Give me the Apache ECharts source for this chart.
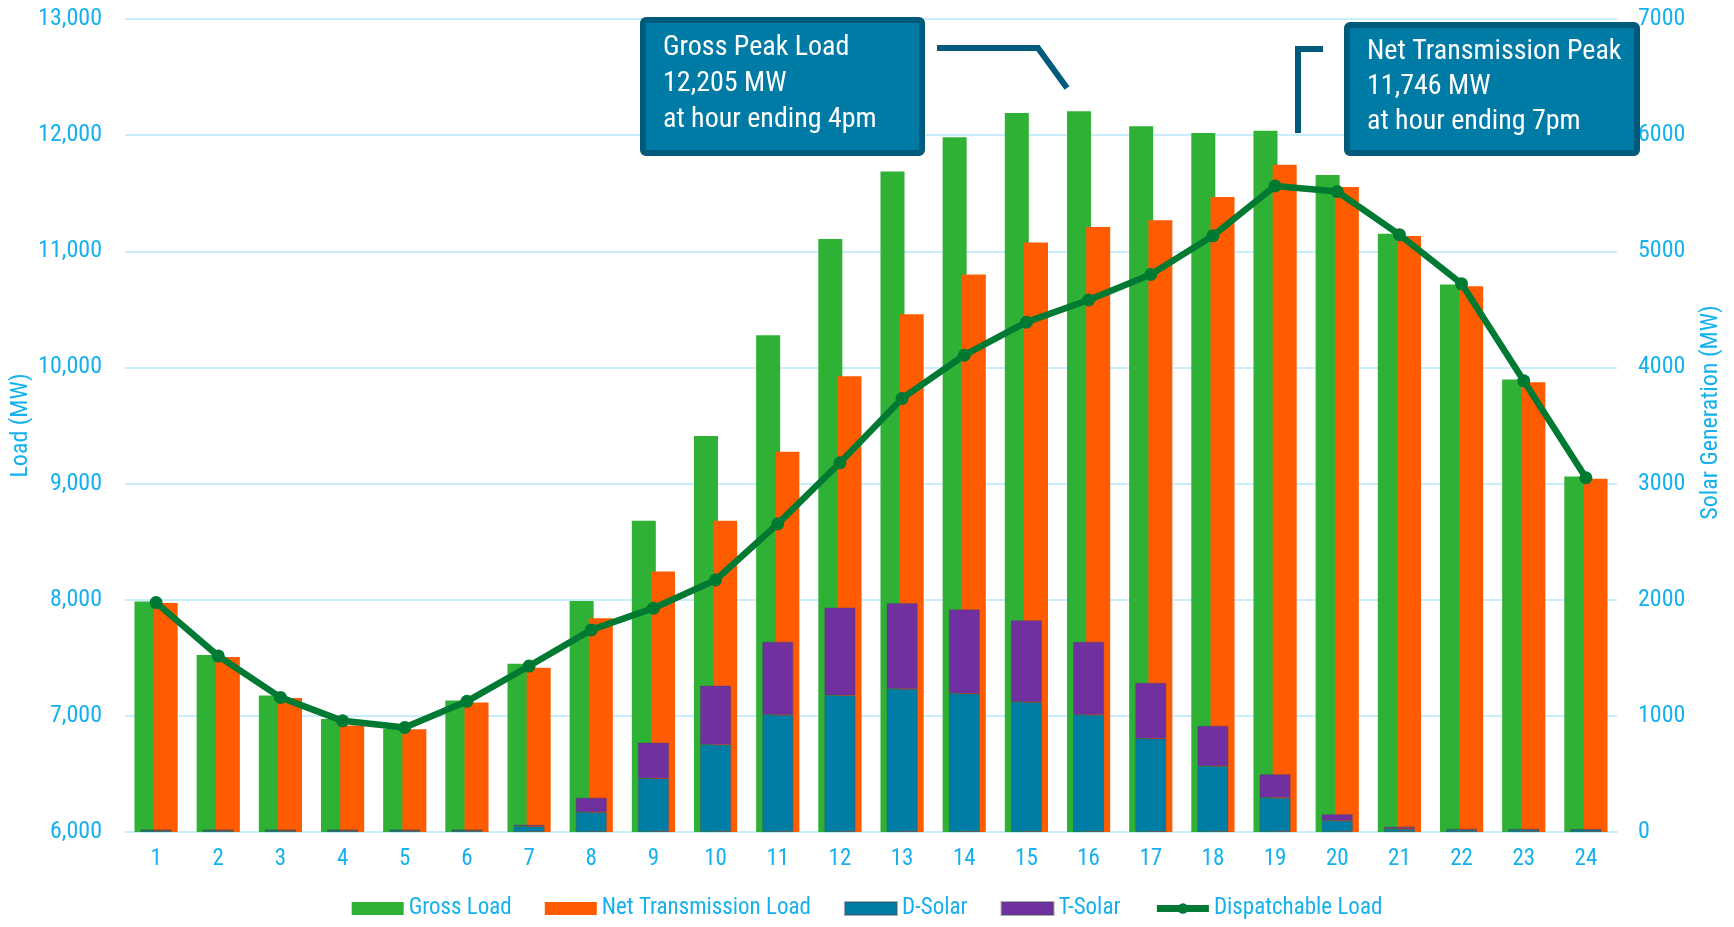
<!DOCTYPE html>
<html>
<head>
<meta charset="utf-8">
<title>Hourly Load and Solar Generation</title>
<script src="https://cdn.jsdelivr.net/npm/echarts@6/dist/echarts.min.js"></script>
<style>
  html, body { margin: 0; padding: 0; background: #ffffff; }
  #chart { width: 1734px; height: 927px; }
</style>
</head>
<body>
<div id="chart"></div>
<script>
// Hour-ending categories
const hours = ['1','2','3','4','5','6','7','8','9','10','11','12','13','14','15','16','17','18','19','20','21','22','23','24'];

// Load series (MW) on the left axis
const grossLoad = [7985, 7525, 7175, 6972, 6890, 7133, 7449, 7988, 8679, 9410, 10276, 11105,
                   11686, 11981, 12190, 12205, 12076, 12019, 12038, 11657, 11151, 10715, 9896, 9061];
const netTransmissionLoad = [7971, 7507, 7154, 6918, 6885, 7116, 7414, 7841, 8242, 8679, 9275, 9924,
                             10457, 10800, 11076, 11210, 11267, 11467, 11746, 11553, 11132, 10700, 9872, 9041];
const dispatchableLoad = [7975, 7516, 7159, 6957, 6900, 7125, 7429, 7740, 7927, 8170, 8653, 9179,
                          9733, 10105, 10390, 10581, 10800, 11133, 11562, 11514, 11143, 10720, 9885, 9050];

// Solar generation (MW) on the right axis, stacked
const dSolar = [17, 17, 17, 17, 17, 17, 48, 170, 460, 753, 1009, 1177,
                1232, 1191, 1119, 1009, 804, 568, 295, 97, 26, 22, 22, 22];
const tSolar = [0, 0, 0, 0, 0, 0, 14, 125, 310, 508, 629, 756,
                739, 725, 704, 629, 480, 347, 202, 56, 19, 3, 3, 0];

// Axis ranges
const loadAxis = { min: 6000, max: 13000, step: 1000 };
const solarAxis = { min: 0, max: 7000, step: 1000 };

const FONT = "'Roboto Condensed', 'Liberation Sans', sans-serif";
const LABEL_BLUE = '#14B1EE';
const GRID_BLUE = '#C8EEFB';
const BOX_FILL = '#007BA6';
const BOX_EDGE = '#005A7B';
const LINE_GREEN = '#007A33';

function fmtNum(v) { return v.toLocaleString('en-US'); }
function hourEnding(h) {
  const hr = h % 12 === 0 ? 12 : h % 12;
  return hr + (h < 12 || h === 24 ? 'am' : 'pm');
}
function peakOf(arr) {
  let idx = 0;
  arr.forEach((v, i) => { if (v > arr[idx]) idx = i; });
  return { value: arr[idx], hour: Number(hours[idx]) };
}

const grossPeak = peakOf(grossLoad);
const netPeak = peakOf(netTransmissionLoad);

const chart = echarts.init(document.getElementById('chart'), null, { renderer: 'canvas' });

const option = {
  backgroundColor: '#ffffff',
  animation: false,
  textStyle: { fontFamily: FONT },
  grid: { left: 125, right: 117, top: 19, bottom: 95, containLabel: false, outerBoundsMode: 'none' },
  legend: {
    bottom: 2,
    left: 'center',
    itemWidth: 52,
    itemHeight: 13,
    itemGap: 33,
    textStyle: { color: LABEL_BLUE, fontSize: 23, fontFamily: FONT },
    data: [
      { name: 'Gross Load', icon: 'rect' },
      { name: 'Net Transmission Load', icon: 'rect' },
      { name: 'D-Solar', icon: 'rect' },
      { name: 'T-Solar', icon: 'rect' },
      { name: 'Dispatchable Load', lineStyle: { width: 7, color: LINE_GREEN } }
    ]
  },
  xAxis: [
    {
      type: 'category',
      data: hours,
      axisLine: { lineStyle: { color: GRID_BLUE, width: 2 } },
      axisTick: { show: false },
      axisLabel: { color: LABEL_BLUE, fontSize: 23, margin: 16, fontFamily: FONT }
    },
    {
      type: 'category',
      data: hours,
      show: false
    }
  ],
  yAxis: [
    {
      type: 'value',
      min: loadAxis.min, max: loadAxis.max, interval: loadAxis.step,
      name: 'Load (MW)',
      nameLocation: 'middle',
      nameGap: 92,
      nameMoveOverlap: false,
      nameTextStyle: { color: LABEL_BLUE, fontSize: 24, fontFamily: FONT },
      axisLine: { show: false },
      axisTick: { show: false },
      axisLabel: { color: LABEL_BLUE, fontSize: 24, margin: 23, fontFamily: FONT,
                   formatter: v => fmtNum(v) },
      splitLine: { lineStyle: { color: GRID_BLUE, width: 2 } }
    },
    {
      type: 'value',
      min: solarAxis.min, max: solarAxis.max, interval: solarAxis.step,
      position: 'right',
      name: 'Solar Generation (MW)',
      nameLocation: 'middle',
      nameGap: 82,
      nameTextStyle: { color: LABEL_BLUE, fontSize: 24, fontFamily: FONT, padding: [0, 0, 0, 26] },
      axisLine: { show: false },
      axisTick: { show: false },
      axisLabel: { color: LABEL_BLUE, fontSize: 24, margin: 21, fontFamily: FONT,
                   formatter: v => String(v) },
      splitLine: { show: false }
    }
  ],
  series: [
    {
      name: 'Gross Load',
      type: 'bar',
      xAxisIndex: 0, yAxisIndex: 0,
      data: grossLoad,
      barWidth: 24,
      barGap: '-20%',
      itemStyle: { color: '#2FB136' },
      z: 2
    },
    {
      name: 'Net Transmission Load',
      type: 'bar',
      xAxisIndex: 0, yAxisIndex: 0,
      data: netTransmissionLoad,
      barWidth: 24,
      barGap: '-20%',
      itemStyle: { color: '#FF5B00' },
      z: 2
    },
    {
      name: 'D-Solar',
      type: 'bar',
      xAxisIndex: 1, yAxisIndex: 1,
      stack: 'solar',
      data: dSolar,
      barWidth: 31,
      itemStyle: { color: '#007DA4', borderColor: 'rgba(70,70,90,0.45)', borderWidth: 0.8 },
      z: 3
    },
    {
      name: 'T-Solar',
      type: 'bar',
      xAxisIndex: 1, yAxisIndex: 1,
      stack: 'solar',
      data: tSolar,
      barWidth: 31,
      itemStyle: { color: '#7030A0', borderColor: 'rgba(70,70,90,0.45)', borderWidth: 0.8 },
      z: 3
    },
    {
      name: 'Dispatchable Load',
      type: 'line',
      xAxisIndex: 0, yAxisIndex: 0,
      data: dispatchableLoad,
      symbol: 'circle',
      symbolSize: 13,
      lineStyle: { color: LINE_GREEN, width: 6.5 },
      itemStyle: { color: LINE_GREEN },
      z: 4
    }
  ],
  graphic: [
    // Gross peak callout
    {
      type: 'polyline', z: 100,
      shape: { points: [[937, 48], [1038, 48], [1067, 88]] },
      style: { stroke: BOX_EDGE, lineWidth: 6, fill: null }
    },
    {
      type: 'rect', z: 100,
      shape: { x: 643, y: 20, width: 279, height: 133, r: 3 },
      style: { fill: BOX_FILL, stroke: BOX_EDGE, lineWidth: 6 }
    },
    {
      type: 'text', z: 101,
      left: 663, top: 30,
      style: {
        text: 'Gross Peak Load\n' + fmtNum(grossPeak.value) + ' MW\nat hour ending ' + hourEnding(grossPeak.hour),
        fill: '#ffffff', font: "28px " + FONT, lineHeight: 36
      }
    },
    // Net transmission peak callout
    {
      type: 'polyline', z: 100,
      shape: { points: [[1323, 49], [1298, 49], [1298, 133]] },
      style: { stroke: BOX_EDGE, lineWidth: 6, fill: null }
    },
    {
      type: 'rect', z: 100,
      shape: { x: 1347, y: 25, width: 290, height: 128, r: 3 },
      style: { fill: BOX_FILL, stroke: BOX_EDGE, lineWidth: 6 }
    },
    {
      type: 'text', z: 101,
      left: 1367, top: 34,
      style: {
        text: 'Net Transmission Peak\n' + fmtNum(netPeak.value) + ' MW\nat hour ending ' + hourEnding(netPeak.hour),
        fill: '#ffffff', font: "28px " + FONT, lineHeight: 35
      }
    }
  ]
};

chart.setOption(option);
</script>
</body>
</html>
